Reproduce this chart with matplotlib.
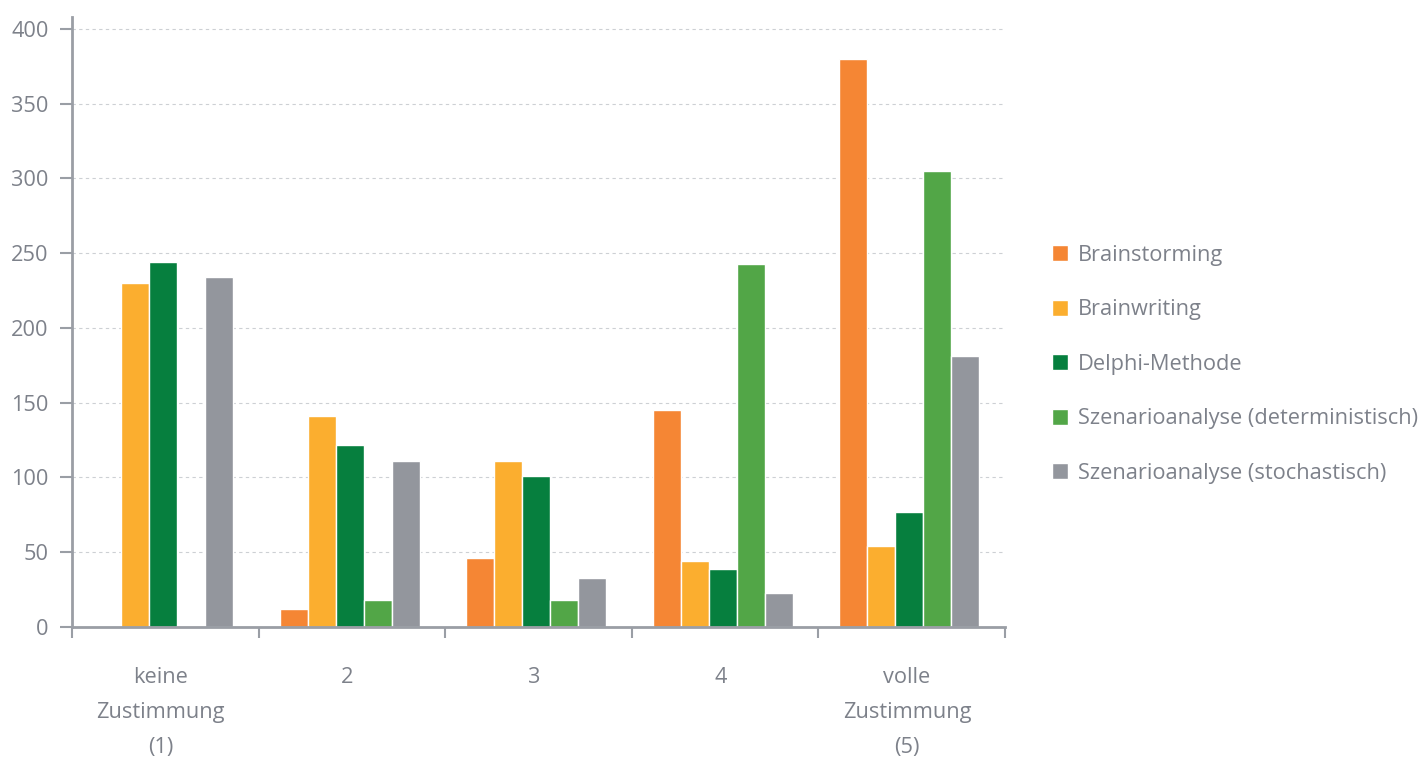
import matplotlib
matplotlib.use("Agg")
import matplotlib.pyplot as plt
import numpy as np

categories = ["keine\nZustimmung\n(1)", "2", "3", "4", "volle\nZustimmung\n(5)"]
series_names = [
    "Brainstorming",
    "Brainwriting",
    "Delphi-Methode",
    "Szenarioanalyse (deterministisch)",
    "Szenarioanalyse (stochastisch)",
]
brainstorming = [0, 12, 46, 145, 380]
brainwriting = [230, 141, 111, 44, 54]
delphi = [244, 122, 101, 39, 77]
szenario_det = [1, 18, 18, 243, 305]
szenario_stoch = [234, 111, 33, 23, 181]
yticks = [0, 50, 100, 150, 200, 250, 300, 350, 400]

colors = ["#F58634", "#FBAE2F", "#067F3E", "#52A647", "#93969D"]
text_color = "#7D818A"
axis_color = "#9A9EA5"
fs = 15.7

plt.rcParams["font.family"] = ["Open Sans", "DejaVu Sans"]

fig = plt.figure(figsize=(14.21, 7.58), dpi=100)
ax = fig.add_axes([0.0507, 0.1728, 0.6565, 0.8048])

values = [brainstorming, brainwriting, delphi, szenario_det, szenario_stoch]
x = np.arange(len(categories))
slot = 0.15
shift = -0.012
for i, (vals, name, c) in enumerate(zip(values, series_names, colors)):
    offs = (i - 2) * slot
    ax.bar(x + offs + shift, vals, width=slot, color=c, edgecolor="white",
           linewidth=1.0, label=name, zorder=2)

ax.set_xlim(-0.5, len(categories) - 0.5)
ax.set_ylim(0, 408)
ax.set_yticks(yticks)
ax.set_yticklabels([str(v) for v in yticks])
ax.yaxis.grid(True, linestyle=(0, (3, 3)), color="#CDD0D4", linewidth=0.8, zorder=0)
ax.set_axisbelow(True)

# Major ticks mark group boundaries; minor ticks carry the category labels
ax.set_xticks(np.arange(len(categories) + 1) - 0.5)
ax.set_xticklabels([])
ax.set_xticks(x - 0.025, minor=True)
ax.set_xticklabels(categories, minor=True, linespacing=1.88)
ax.tick_params(axis="x", which="minor", length=0, pad=29, labelsize=fs,
               labelcolor=text_color)
ax.tick_params(axis="x", which="major", length=8, width=1.5, color=axis_color,
               direction="out")
ax.tick_params(axis="y", length=9, width=1.5, color=axis_color, pad=8,
               labelsize=fs, labelcolor=text_color)

for side in ["top", "right"]:
    ax.spines[side].set_visible(False)
for side in ["left", "bottom"]:
    ax.spines[side].set_color(axis_color)
    ax.spines[side].set_linewidth(2)
    ax.spines[side].set_zorder(4)

leg = fig.legend(loc="center left", bbox_to_anchor=(0.7265, 0.5195),
                 frameon=False, fontsize=fs, labelcolor=text_color,
                 handlelength=0.75, handleheight=0.75, handletextpad=0.45,
                 labelspacing=1.54)

fig.savefig("out.png", dpi=100, facecolor="white")
